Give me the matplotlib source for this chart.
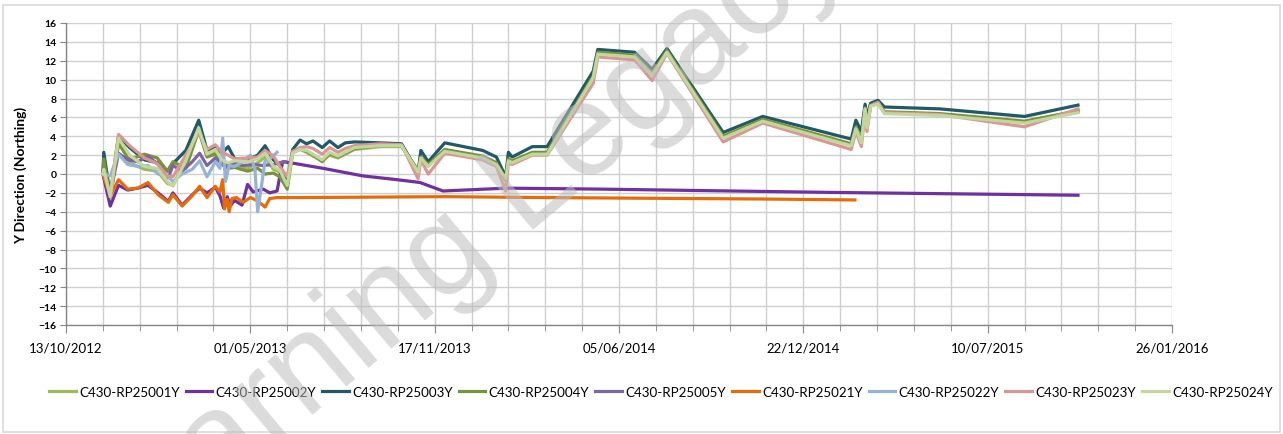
import matplotlib
matplotlib.use('Agg')
import matplotlib.pyplot as plt
import matplotlib.dates as mdates
from matplotlib.patches import Rectangle
from datetime import date, timedelta
import pandas as pd

plt.rcParams['font.family'] = ['Lato', 'DejaVu Sans']

# survey dates shared by the main group of prisms
main_dates = [
    '2012-11-22', '2012-11-23', '2012-11-30', '2012-12-09', '2012-12-21', '2013-01-06',
    '2013-01-20', '2013-01-31', '2013-02-06', '2013-02-20', '2013-03-06', '2013-03-15',
    '2013-03-24', '2013-03-31', '2013-04-07', '2013-04-14', '2013-04-28', '2013-05-09',
    '2013-05-17', '2013-05-26', '2013-06-02', '2013-06-10', '2013-06-16', '2013-06-24',
    '2013-07-01', '2013-07-08', '2013-07-18', '2013-07-26', '2013-08-04', '2013-08-12',
    '2013-08-22', '2013-09-19', '2013-10-12', '2013-10-30', '2013-11-02', '2013-11-10',
    '2013-11-28', '2014-01-08', '2014-01-23', '2014-02-02', '2014-02-05', '2014-02-09',
    '2014-03-03', '2014-03-19', '2014-05-08', '2014-05-13', '2014-06-22', '2014-07-11',
    '2014-07-27', '2014-09-26', '2014-11-08', '2015-02-12', '2015-02-17', '2015-02-23',
    '2015-02-27', '2015-03-01', '2015-03-05', '2015-03-13', '2015-03-20', '2015-05-19',
    '2015-08-19', '2015-10-16',
]

y001 = [0, 0.8, -2.4, 3.6, 1.2, 0.5, 0.3, -1.0, -1.2, 1.5, 4.8, 2.0, 2.3, 1.2, 0.8, 1.0,
        0.6, 1.2, 1.8, 0.5, 0.2, -1.4, 2.3, 2.6,
        2.3, 1.9, 1.4, 2.0, 1.7, 2.1, 2.6, 2.9, 2.9, 0.4, 1.6, 0.9, 2.5, 1.8, 1.1, -0.7,
        1.5, 1.3, 2.2, 2.2, 10.3, 12.8, 12.5, 10.6, 13.0, 3.9, 5.7, 3.1, 4.9, 3.4, 6.9,
        5.0, 7.2, 7.5, 6.5, 6.3, 5.5, 6.6]
y003 = [0, 2.3, -2.3, 4.0, 2.8, 1.5, 1.2, 0.3, 1.1, 2.5, 5.7, 2.5, 2.9, 2.2, 2.9, 1.6,
        1.5, 2.0, 3.0, 1.5, 0.9, -0.8, 2.6, 3.6,
        3.2, 3.5, 2.8, 3.5, 2.8, 3.3, 3.4, 3.3, 3.2, 0.2, 2.5, 1.3, 3.3, 2.5, 1.8, -0.3,
        2.3, 1.8, 2.9, 2.9, 10.9, 13.2, 12.9, 11.1, 13.3, 4.4, 6.1, 3.7, 5.7, 4.5, 7.4,
        6.0, 7.5, 7.8, 7.1, 6.9, 6.1, 7.3]
y004 = [0, 1.6, -2.5, 3.2, 1.5, 2.1, 1.7, 0.3, 1.3, 0.6, 4.6, 1.8, 2.1, 1.0, 0.6, 0.7,
        0.3, 0.6, 0.0, 0.1, -0.3, -1.6, 2.3, 2.7,
        2.4, 2.0, 1.3, 2.2, 1.8, 2.2, 2.7, 3.0, 3.0, 0.3, 1.8, 1.0, 2.6, 1.9, 1.2, -0.6,
        1.6, 1.4, 2.3, 2.3, 10.4, 12.9, 12.6, 10.7, 13.1, 4.0, 5.8, 3.2, 5.0, 3.5, 7.0,
        5.2, 7.3, 7.6, 6.6, 6.4, 5.6, 6.7]
y023 = [0, 0.3, -2.2, 4.2, 3.0, 1.7, 1.1, -0.2, -0.3, 2.0, 4.4, 2.6, 3.1, 2.3, 2.0, 1.6,
        1.7, 1.8, 2.5, 1.9, 0.8, -0.3, 2.4, 2.8,
        2.9, 2.7, 2.1, 2.8, 2.3, 2.7, 3.0, 3.2, 3.1, -0.5, 1.5, 0.0, 2.2, 1.5, 0.8, -1.8,
        1.2, 1.0, 2.0, 2.0, 9.6, 12.4, 12.1, 9.9, 12.8, 3.4, 5.4, 2.6, 4.5, 2.9, 6.8,
        4.5, 7.2, 7.6, 6.5, 6.3, 5.0, 6.9]
y024 = [0, 0.5, -2.4, 3.8, 2.0, 0.8, 0.6, -0.8, -1.3, 1.4, 4.9, 2.1, 2.6, 1.5, 1.2, 1.4,
        1.3, 1.6, 2.2, 0.8, 0.4, -1.2, 2.2, 2.6,
        2.5, 2.1, 1.5, 2.3, 1.9, 2.3, 2.8, 3.0, 3.0, 0.2, 1.7, 0.8, 2.4, 1.7, 1.0, -0.5,
        1.4, 1.2, 2.1, 2.1, 10.2, 12.7, 12.4, 10.5, 12.9, 3.8, 5.6, 3.0, 4.8, 3.3, 6.9,
        4.9, 7.2, 7.4, 6.4, 6.2, 5.4, 6.5]

dates002 = [
    '2012-11-22', '2012-11-30', '2012-12-09', '2012-12-19', '2012-12-30', '2013-01-10',
    '2013-01-21', '2013-02-01', '2013-02-06', '2013-02-16', '2013-02-27', '2013-03-07',
    '2013-03-15', '2013-03-24', '2013-03-29', '2013-04-02', '2013-04-06', '2013-04-09',
    '2013-04-14', '2013-04-22', '2013-04-28', '2013-05-04', '2013-05-15', '2013-05-22',
    '2013-05-30', '2013-06-05', '2013-06-13', '2013-07-19', '2013-08-31', '2013-10-07',
    '2013-11-01', '2013-11-26', '2014-02-03', '2014-05-15', '2015-01-20', '2015-10-16',
]
y002 = [0.0, -3.4, -1.2, -1.7, -1.5, -1.2, -2.0, -2.9, -2.0, -3.3, -2.2, -1.5, -2.0, -1.4,
        -2.3, -3.6, -2.4, -3.4, -2.8, -3.3, -1.1, -1.9, -1.6, -2.0, -1.8, 1.3, 1.2, 0.6,
        -0.2, -0.6, -0.9, -1.8, -1.5, -1.6, -1.95, -2.25]

dates005 = [
    '2012-11-22', '2012-11-30', '2012-12-09', '2012-12-19', '2012-12-30', '2013-01-10',
    '2013-01-21', '2013-02-01', '2013-02-06', '2013-02-16', '2013-02-27', '2013-03-07',
    '2013-03-15', '2013-03-24', '2013-03-29', '2013-04-06', '2013-04-14', '2013-04-22',
    '2013-05-04', '2013-05-15', '2013-05-26', '2013-06-02', '2013-06-08',
]
y005 = [0.3, -2.2, 2.2, 1.5, 1.3, 1.9, 1.0, -0.4, 0.9, 0.3, 1.3, 2.2, 0.9, 1.7, 1.3, 0.8,
        1.2, 0.9, 1.0, 0.9, 1.0, 1.2, 1.3]

dates021 = [
    '2012-11-22', '2012-11-30', '2012-12-09', '2012-12-19', '2012-12-30', '2013-01-10',
    '2013-01-21', '2013-02-01', '2013-02-06', '2013-02-16', '2013-02-27', '2013-03-07',
    '2013-03-15', '2013-03-24', '2013-03-29', '2013-04-01', '2013-04-03', '2013-04-06',
    '2013-04-08', '2013-04-11', '2013-04-16', '2013-04-23', '2013-05-01', '2013-05-08',
    '2013-05-17', '2013-05-22', '2013-05-30', '2013-06-24', '2013-11-28', '2014-03-19',
    '2014-11-08', '2015-02-16',
]
y021 = [0.0, -2.3, -0.6, -1.6, -1.5, -0.9, -2.2, -3.0, -2.2, -3.4, -2.3, -1.3, -2.5, -1.3,
        -1.9, -0.6, -3.7, -2.7, -4.0, -2.6, -2.5, -3.0, -2.5, -2.8, -3.5, -2.6, -2.5, -2.5,
        -2.4, -2.5, -2.65, -2.75]

dates022 = [
    '2012-11-22', '2012-11-30', '2012-12-09', '2012-12-19', '2012-12-30', '2013-01-10',
    '2013-01-21', '2013-02-01', '2013-02-06', '2013-02-16', '2013-02-27', '2013-03-07',
    '2013-03-15', '2013-03-24', '2013-03-29', '2013-04-01', '2013-04-04', '2013-04-08',
    '2013-04-14', '2013-04-23', '2013-05-01', '2013-05-06', '2013-05-09', '2013-05-17',
    '2013-05-22', '2013-05-30',
]
y022 = [0.0, -0.2, 2.1, 1.0, 0.8, 0.9, 0.0, -0.3, -0.8, 0.0, 0.5, 1.4, -0.3, 1.3, 0.6,
        3.8, -0.8, 0.9, 0.8, 1.3, 2.0, 0.5, -4.0, 1.4, 1.6, 2.3]

series = [
    ('C430-RP25001Y', main_dates, y001, '#9BBB59'),
    ('C430-RP25002Y', dates002, y002, '#7030A0'),
    ('C430-RP25003Y', main_dates, y003, '#215968'),
    ('C430-RP25004Y', main_dates, y004, '#77933C'),
    ('C430-RP25005Y', dates005, y005, '#8064A2'),
    ('C430-RP25021Y', dates021, y021, '#E46C0A'),
    ('C430-RP25022Y', dates022, y022, '#95B3D7'),
    ('C430-RP25023Y', main_dates, y023, '#D99694'),
    ('C430-RP25024Y', main_dates, y024, '#C3D69B'),
]

x_start = date(2012, 10, 13)
x_end = date(2016, 1, 26)

fig = plt.figure(figsize=(12.83, 4.35), dpi=100)
ax = fig.add_axes([66 / 1283, 1 - 326 / 435, (1172 - 66) / 1283, (326 - 24) / 435])

for name, d, y, c in series:
    ax.plot(pd.to_datetime(d), y, color=c, lw=2.3, label=name, solid_joinstyle='round')

ax.set_xlim(x_start, x_end)
ax.set_ylim(-16, 16)
ax.set_yticks(range(-16, 17, 2))
major = [x_start + timedelta(days=200 * k) for k in range(7)]
minor = [x_start + timedelta(days=40 * k) for k in range(31)]
ax.set_xticks(major)
ax.set_xticks(minor, minor=True)
ax.xaxis.set_major_formatter(mdates.DateFormatter('%d/%m/%Y'))
ax.grid(True, which='both', color='#cfcfcf', lw=1.0)
ax.set_axisbelow(True)

for s in ('top', 'right'):
    ax.spines[s].set_visible(False)
for s in ('left', 'bottom'):
    ax.spines[s].set_color('#868686')
    ax.spines[s].set_linewidth(1.0)

ax.tick_params(axis='y', labelsize=7.5, length=4, color='#868686', pad=3)
for lbl in ax.get_yticklabels():
    lbl.set_fontweight('bold')
ax.tick_params(axis='x', which='major', labelsize=9.5, length=6, color='#868686', pad=6)
ax.tick_params(axis='x', which='minor', length=4, color='#868686')

ax.set_ylabel('Y Direction (Northing)', fontsize=10, fontweight='bold', labelpad=8)

fig.legend(loc='center', bbox_to_anchor=(0.515, 1 - 393 / 435), ncol=9, frameon=False,
           fontsize=9.6, handlelength=2.0, handletextpad=0.25, columnspacing=0.45)

# chart area border
fig.patches.append(Rectangle((3 / 1283, 2 / 435), 1277 / 1283, 427 / 435,
                             transform=fig.transFigure, fill=False,
                             edgecolor='#d9d9d9', lw=1.2))

# watermark
fig.text(455 / 1283, 1 - 250 / 435, 'Learning Legacy', rotation=40, fontsize=95,
         color='#bdbdbd', alpha=0.55, ha='center', va='center', zorder=10,
         family='Liberation Sans')

fig.savefig('out.png', dpi=100)
